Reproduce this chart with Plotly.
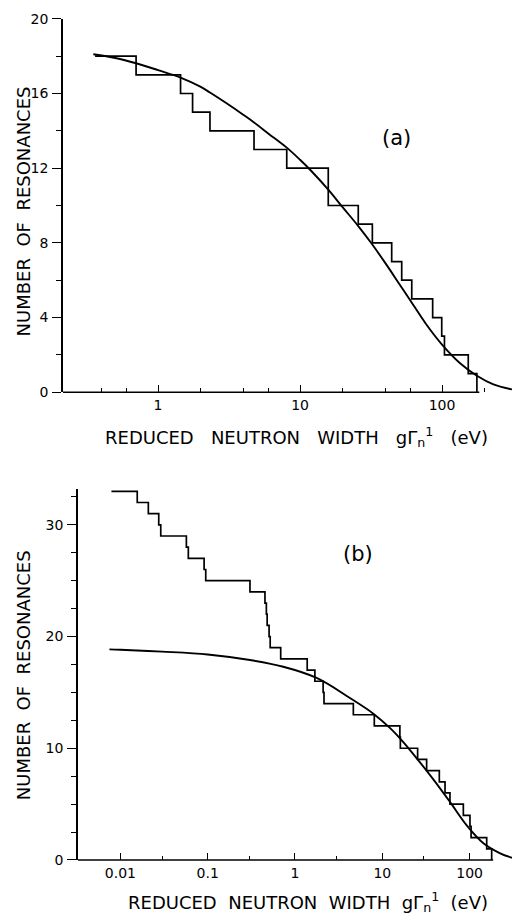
import math
import plotly.graph_objects as go

# ---------------- data ----------------
# panel (a): cumulative number of resonances vs reduced neutron width
a_step_x = [0.36, 0.70, 1.44, 1.75, 2.32, 4.74, 8.06, 15.8, 25.7, 32.3, 44.2,
            52.0, 61.2, 85.9, 99.5, 104, 153, 176]
a_step_n = [18, 17, 16, 15, 14, 13, 12, 10, 9, 8, 7, 6, 5, 4, 3, 2, 1, 0]
a_curve_x = [0.35, 0.5, 0.7, 1.0, 1.44, 2.0, 2.32, 3.0, 4.0, 4.74, 6.0, 8.06,
             10, 12, 15.8, 20, 25.7, 32, 40, 50, 60, 78, 100, 134, 176, 230, 311]
a_curve_n = [18.1, 17.9, 17.62, 17.25, 16.85, 16.35, 16.05, 15.5, 14.85, 14.45,
             13.85, 13.1, 12.45, 11.85, 10.85, 9.9, 8.9, 7.95, 6.9, 5.8, 4.9,
             3.6, 2.55, 1.55, 0.88, 0.42, 0.15]

# panel (b)
b_step_x = [0.0079, 0.0156, 0.0209, 0.0275, 0.029, 0.057, 0.060, 0.091, 0.095,
            0.305, 0.453, 0.47, 0.48, 0.505, 0.52, 0.686, 1.38, 1.69, 2.1, 2.15,
            4.66, 8.1, 15.9, 16.1, 25.4, 32.2, 45, 52.3, 59.6, 84.8, 101, 104,
            157, 179]
b_step_n = [33, 32, 31, 30, 29, 28, 27, 26, 25, 24, 23, 22, 21, 20, 19, 18, 17,
            16, 15, 14, 13, 12, 11, 10, 9, 8, 7, 6, 5, 4, 3, 2, 1, 0]
b_curve_x = [0.0075, 0.01, 0.03, 0.1, 0.305, 0.734, 1.77, 4.26, 7.9, 12.3, 17.4,
             24.8, 38.6, 59.6, 92.7, 144, 224, 306]
b_curve_n = [18.85, 18.82, 18.65, 18.4, 17.9, 17.3, 16.3, 14.5, 13.1, 11.8, 10.55,
             9.1, 7.2, 5.2, 3.1, 1.5, 0.6, 0.2]

a_xticks = [1, 10, 100]
a_xminor = [0.2, 0.4, 0.6, 2, 4, 6, 20, 40, 60, 200]
a_yticks = [0, 4, 8, 12, 16, 20]
a_yminor = [2, 6, 10, 14, 18]
b_xticks = [0.01, 0.1, 1, 10, 100]
b_xticklabels = ["0.01", "0.1", "1", "10", "100"]
b_xminor = [0.03, 0.3, 3, 30]
b_yticks = [0, 10, 20, 30]
b_yminor = [2.5, 5, 7.5, 12.5, 15, 17.5, 22.5, 25, 27.5, 32.5]

# ---------------- layout geometry ----------------
W, H = 512, 924
FONT = "DejaVu Sans"
a_xrange = [math.log10(0.214), math.log10(311)]
b_xrange = [math.log10(0.00327), math.log10(306)]


def px_x(p):
    return p / W


def px_y(p):
    return (H - p) / H


fig = go.Figure()
step_line = dict(color="black", width=1.7)
curve_line = dict(shape="spline", color="black", width=1.9)

fig.add_trace(go.Scatter(x=a_step_x, y=a_step_n, mode="lines",
                         line=dict(shape="hv", **step_line),
                         xaxis="x", yaxis="y", showlegend=False))
fig.add_trace(go.Scatter(x=a_curve_x, y=a_curve_n, mode="lines", line=curve_line,
                         xaxis="x", yaxis="y", showlegend=False))
fig.add_trace(go.Scatter(x=b_step_x, y=b_step_n, mode="lines",
                         line=dict(shape="hv", **step_line),
                         xaxis="x2", yaxis="y2", showlegend=False))
fig.add_trace(go.Scatter(x=b_curve_x, y=b_curve_n, mode="lines", line=curve_line,
                         xaxis="x2", yaxis="y2", showlegend=False))

tickfont = dict(family=FONT, size=14, color="black")


def xaxis(rng, domain, tickvals, ticktext, minor, anchor):
    return dict(type="log", range=rng, domain=domain, anchor=anchor,
                showline=False, showgrid=False, zeroline=False,
                ticks="inside", ticklen=7, tickwidth=1.4, tickcolor="black",
                tickvals=tickvals, ticktext=ticktext, tickfont=tickfont,
                ticklabelstandoff=3,
                minor=dict(tickvals=minor, ticks="inside", ticklen=4,
                           tickwidth=1.2, tickcolor="black", showgrid=False))


def yaxis(rng, domain, tickvals, minor, anchor):
    return dict(range=rng, domain=domain, anchor=anchor,
                showline=True, linecolor="black", linewidth=1.6,
                showgrid=False, zeroline=False,
                ticks="outside", ticklen=9, tickwidth=1.4, tickcolor="black",
                tickvals=tickvals, ticktext=[str(v) for v in tickvals],
                tickfont=tickfont, ticklabelstandoff=1,
                minor=dict(tickvals=minor, ticks="outside", ticklen=5,
                           tickwidth=1.2, tickcolor="black", showgrid=False))


fig.update_layout(
    width=W, height=H, margin=dict(l=0, r=0, t=0, b=0),
    paper_bgcolor="white", plot_bgcolor="white",
    xaxis=xaxis(a_xrange, [px_x(63), 1.0], a_xticks, [str(v) for v in a_xticks], a_xminor, "y"),
    yaxis=yaxis([0, 20], [px_y(391), px_y(11)], a_yticks, a_yminor, "x"),
    xaxis2=xaxis(b_xrange, [px_x(78), 1.0], b_xticks, b_xticklabels, b_xminor, "y2"),
    yaxis2=yaxis([0, 33.25], [px_y(867), px_y(489)], b_yticks, b_yminor, "x2"),
)


# x-axis baselines ending at the last step of each staircase
def frac(v, rng):
    return (math.log10(v) - rng[0]) / (rng[1] - rng[0])


fig.add_shape(type="line", xref="x domain", yref="y domain", x0=0,
              x1=frac(a_step_x[-1] * 1.04, a_xrange), y0=0, y1=0,
              line=dict(color="black", width=1.6))
fig.add_shape(type="line", xref="x2 domain", yref="y2 domain", x0=0,
              x1=frac(b_step_x[-1] * 1.04, b_xrange), y0=0, y1=0,
              line=dict(color="black", width=1.6))

ytitle = "NUMBER\u00a0 OF\u00a0 RESONANCES"
xtitle_a = ("REDUCED\u00a0\u00a0 NEUTRON\u00a0\u00a0 WIDTH\u00a0\u00a0 g\u0393<sub>n</sub>"
            "<sup>1</sup>\u00a0\u00a0 (eV)")
xtitle_b = ("REDUCED\u00a0 NEUTRON\u00a0 WIDTH\u00a0 g\u0393<sub>n</sub>"
            "<sup>1</sup>\u00a0 (eV)")
tfont = dict(family=FONT, size=18, color="black")
for yc in (207, 679):
    fig.add_annotation(text=ytitle, xref="paper", yref="paper", x=px_x(23), y=px_y(yc),
                       textangle=-90, showarrow=False, font=tfont,
                       xanchor="center", yanchor="middle")
for txt, xc, yc in ((xtitle_a, 296, 437), (xtitle_b, 308, 910)):
    fig.add_annotation(text=txt, xref="paper", yref="paper", x=px_x(xc), y=px_y(yc),
                       showarrow=False, font=tfont, xanchor="center", yanchor="middle")

lfont = dict(family=FONT, size=21, color="black")
fig.add_annotation(text="(a)", xref="paper", yref="paper", x=px_x(413), y=px_y(118),
                   showarrow=False, font=lfont)
fig.add_annotation(text="(b)", xref="paper", yref="paper", x=px_x(375), y=px_y(556),
                   showarrow=False, font=lfont)

fig.write_html("out.html", config={"displayModeBar": False},
               post_script="document.body.style.margin='0';"
                           "document.body.style.overflow='hidden';")
